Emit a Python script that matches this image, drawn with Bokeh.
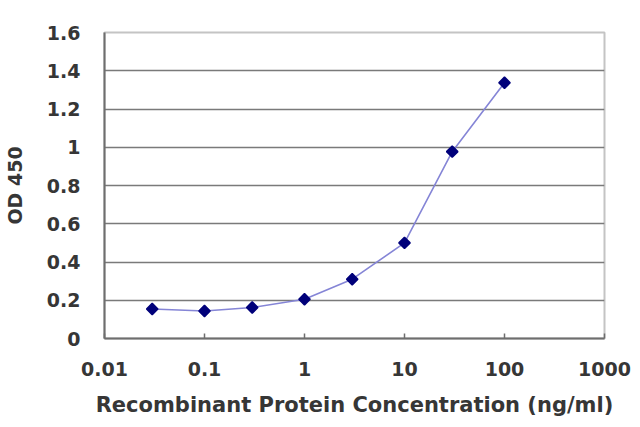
import math
from bokeh.plotting import figure
from bokeh.models import FixedTicker, CustomJSTickFormatter
from bokeh.embed import file_html
from bokeh.resources import INLINE

concentration = [0.03, 0.1, 0.3, 1, 3, 10, 30, 100]
od450 = [0.154, 0.144, 0.162, 0.205, 0.31, 0.50, 0.977, 1.337]
x_ticks = [0.01, 0.1, 1, 10, 100, 1000]
y_ticks = [0, 0.2, 0.4, 0.6, 0.8, 1.0, 1.2, 1.4, 1.6]

FONT = "DejaVu Sans"
TXT = "#363636"

p = figure(width=632, height=419, x_axis_type="log", x_range=(0.01, 1000), y_range=(0, 1.6),
           output_backend="svg", toolbar_location=None,
           min_border_left=103, min_border_right=28, min_border_top=32, min_border_bottom=77)
p.outline_line_color = "#c4c4c4"
p.outline_line_width = 2
p.background_fill_color = "white"
p.border_fill_color = "white"

p.line(concentration, od450, line_color="#8585d6", line_width=1.6)
p.scatter(concentration, od450, marker="square", size=8, angle=math.pi / 4,
          fill_color="#00007a", line_color="#00007a", line_width=1.5)

# x axis
xa = p.xaxis[0]
xa.ticker = FixedTicker(ticks=x_ticks)
xa.formatter = CustomJSTickFormatter(code="return tick.toString();")
xa.major_tick_in = 5
xa.major_tick_out = 0
xa.minor_tick_in = 0
xa.minor_tick_out = 0
xa.axis_line_color = "#6e6e6e"
xa.axis_line_width = 2
xa.major_tick_line_color = "#6e6e6e"
xa.major_tick_line_width = 1.5
xa.major_label_standoff = 23
xa.major_label_text_font = FONT
xa.major_label_text_font_style = "bold"
xa.major_label_text_font_size = "19px"
xa.major_label_text_color = TXT
xa.axis_label = "Recombinant Protein Concentration (ng/ml)"
xa.axis_label_text_font = FONT
xa.axis_label_text_font_style = "bold"
xa.axis_label_text_font_size = "21px"
xa.axis_label_text_color = TXT
xa.axis_label_standoff = 14

# y axis
ya = p.yaxis[0]
ya.ticker = FixedTicker(ticks=y_ticks)
ya.formatter = CustomJSTickFormatter(code="return Number(tick.toFixed(1)).toString();")
ya.major_tick_in = 0
ya.major_tick_out = 0
ya.minor_tick_in = 0
ya.minor_tick_out = 0
ya.axis_line_color = "#6e6e6e"
ya.axis_line_width = 2
ya.major_label_standoff = 24
ya.major_label_text_font = FONT
ya.major_label_text_font_style = "bold"
ya.major_label_text_font_size = "19px"
ya.major_label_text_color = TXT
ya.axis_label = "OD 450"
ya.axis_label_text_font = FONT
ya.axis_label_text_font_style = "bold"
ya.axis_label_text_font_size = "19px"
ya.axis_label_text_color = TXT
ya.axis_label_standoff = 18

p.xgrid.grid_line_color = None
p.ygrid.ticker = FixedTicker(ticks=y_ticks[1:-1])
p.ygrid.grid_line_color = "#7a7a7a"
p.ygrid.grid_line_width = 1.6

open("out.html", "w").write(file_html(p, INLINE))
